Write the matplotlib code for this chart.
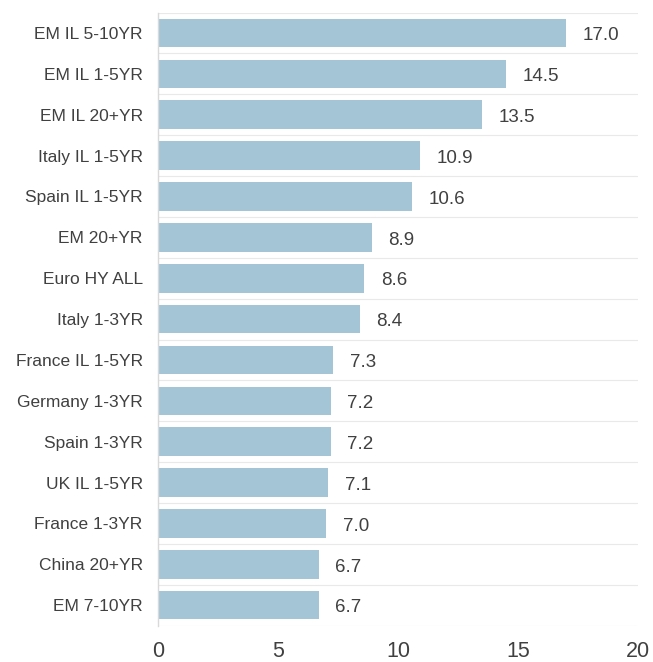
import matplotlib
matplotlib.use("Agg")
import matplotlib.pyplot as plt
import numpy as np

plt.rcParams["font.family"] = ["Liberation Sans", "DejaVu Sans"]

categories = ["EM IL 5-10YR", "EM IL 1-5YR", "EM IL 20+YR", "Italy IL 1-5YR",
              "Spain IL 1-5YR", "EM 20+YR", "Euro HY ALL", "Italy 1-3YR",
              "France IL 1-5YR", "Germany 1-3YR", "Spain 1-3YR", "UK IL 1-5YR",
              "France 1-3YR", "China 20+YR", "EM 7-10YR"]
values = [17.0, 14.5, 13.5, 10.9, 10.6, 8.9, 8.6, 8.4, 7.3, 7.2, 7.2, 7.1,
          7.0, 6.7, 6.7]
xticks = [0, 5, 10, 15, 20]

TEXT = "#404040"
BAR = "#a3c5d6"

fig = plt.figure(figsize=(6.53, 6.62), dpi=100)
ax = fig.add_axes([0.242, 0.055, 0.735, 0.926])

y = np.arange(len(categories))
ax.barh(y, values, height=0.7, color=BAR, zorder=2)
for yi, v in zip(y, values):
    ax.annotate(f"{v:.1f}", (v, yi), xytext=(12, -2), textcoords="offset points",
                ha="left", va="center", fontsize=13.5, color=TEXT)

ax.set_ylim(len(categories) - 0.5, -0.5)
ax.set_xlim(0, 20)
ax.set_xticks(xticks)
ax.set_yticks(y)
ax.set_yticklabels(categories)
ax.set_yticks(np.arange(-0.5, len(categories), 1), minor=True)
ax.grid(which="minor", axis="y", color="#e9e9e9", linewidth=0.8, zorder=0)
ax.tick_params(axis="y", which="both", length=0, labelsize=12.5, labelcolor=TEXT, pad=11)
ax.tick_params(axis="x", length=0, labelsize=15.5, labelcolor=TEXT, pad=11)

for s in ["top", "right", "bottom"]:
    ax.spines[s].set_visible(False)
ax.spines["left"].set_color("#d9d9d9")
ax.spines["left"].set_linewidth(1)

fig.savefig("out.png", dpi=100)
